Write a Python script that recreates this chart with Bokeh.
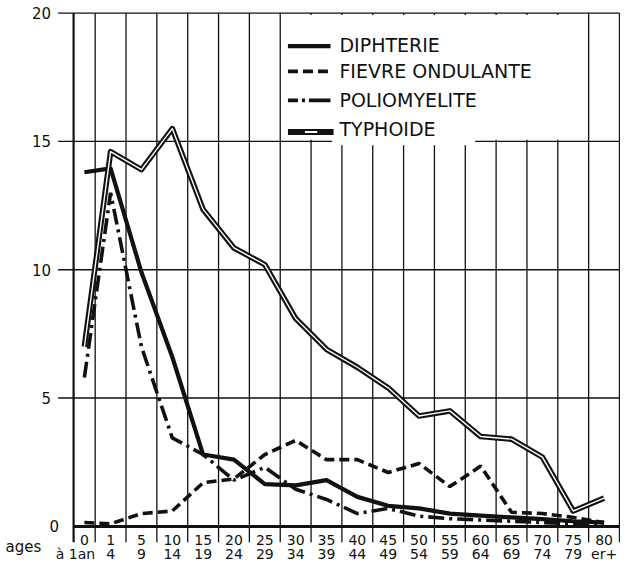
from bokeh.plotting import figure
from bokeh.models import Range1d
from bokeh.core.properties import value
from bokeh.embed import file_html
from bokeh.resources import INLINE
import numpy as np

# ---- data ----
age_from = ["0", "1", "5", "10", "15", "20", "25", "30", "35", "40", "45",
            "50", "55", "60", "65", "70", "75", "80"]
age_to = ["à 1an", "4", "9", "14", "19", "24", "29", "34", "39", "44", "49",
          "54", "59", "64", "69", "74", "79", "er+"]
col_width = [0.7] + [1.0] * 17

diphterie = [13.8, 13.95, 9.9, 6.6, 2.8, 2.6, 1.65, 1.6, 1.8, 1.15, 0.8,
             0.7, 0.5, 0.42, 0.35, 0.28, 0.2, 0.15]
fievre = [0.15, 0.1, 0.5, 0.6, 1.7, 1.85, 2.8, 3.35, 2.6, 2.6, 2.1,
          2.45, 1.55, 2.35, 0.55, 0.5, 0.35, 0.15]
polio = [5.8, 13.0, 7.0, 3.45, 2.8, 1.8, 2.3, 1.45, 1.05, 0.5, 0.7,
         0.4, 0.3, 0.25, 0.2, 0.15, 0.1, 0.1]
typhoide = [7.0, 14.6, 13.9, 15.5, 12.35, 10.85, 10.2, 8.1, 6.9, 6.2, 5.4,
            4.3, 4.5, 3.5, 3.4, 2.7, 0.6, 1.1]

y_ticks = [0, 5, 10, 15, 20]
y_tick_labels = ["0", "5", "10", "15", "20"]
legend_names = ["DIPHTERIE", "FIEVRE ONDULANTE", "POLIOMYELITE", "TYPHOIDE"]

# ---- derived ----
bounds = np.concatenate([[0.0], np.cumsum(col_width)])
centers = bounds[:-1] + np.array(col_width) / 2
xmax = bounds[-1]

W, H = 620, 565
p = figure(width=W, height=H, output_backend="svg", toolbar_location=None,
           x_axis_type=None, y_axis_type=None, min_border=0,
           x_range=Range1d(-2.370, 17.733),
           y_range=Range1d(-1.524, 20.491))
p.outline_line_color = None
p.xgrid.visible = False
p.ygrid.visible = False
p.background_fill_color = "white"

FONT = value("DejaVu Sans")
INK = "#111111"

# horizontal grid lines (with left tick extension)
hy = [t for t in y_ticks if t > 0]
p.segment(x0=[-0.5] * len(hy), x1=[xmax] * len(hy), y0=hy, y1=hy,
          line_color=INK, line_width=1.4)
# baseline
p.segment(x0=[0], x1=[xmax], y0=[0], y1=[0], line_color=INK, line_width=3)
# vertical lines (extend into first label row)
p.segment(x0=bounds[1:], x1=bounds[1:], y0=[-0.62] * (len(bounds) - 1),
          y1=[20] * (len(bounds) - 1), line_color=INK, line_width=1.3)
p.segment(x0=[0], x1=[0], y0=[-0.62], y1=[20], line_color=INK, line_width=2.2)

# legend box mask (grid lines absent inside legend area)
lb_left, lb_right = bounds[7] + 0.05, bounds[17] - 0.05
p.quad(left=[lb_left], right=[lb_right], bottom=[15.07], top=[19.93],
       fill_color="white", line_color=None)
p.quad(left=[8.38], right=[13.02], bottom=[14.85], top=[15.15],
       fill_color="white", line_color=None)

# ---- series ----
p.line(centers, fievre, line_color=INK, line_width=3.6, line_dash="10 5")
p.line(centers, polio, line_color=INK, line_width=3.6, line_dash="16 5 3 5")
p.line(centers, diphterie, line_color=INK, line_width=4.2, line_join="round")
p.line(centers, typhoide, line_color=INK, line_width=5.6, line_join="round")
p.line(centers, typhoide, line_color="white", line_width=1.4, line_join="round")

# ---- legend ----
sx0, sx1, tx = 6.95, 8.33, 8.62
ly = [18.75, 17.73, 16.63, 15.47]
p.line([sx0, sx1], [ly[0] - 0.04] * 2, line_color=INK, line_width=4.2)
p.line([sx0, sx1], [ly[1]] * 2, line_color=INK, line_width=3.6, line_dash="10 5")
p.line([sx0, sx1], [ly[2] - 0.03] * 2, line_color=INK, line_width=3.6,
       line_dash="10 4 3 4 30 4")
p.line([sx0, sx1 + 0.1], [ly[3] - 0.1] * 2, line_color=INK, line_width=6)
p.line([sx0 + 0.55, sx0 + 0.95], [ly[3] - 0.1] * 2, line_color="white",
       line_width=2)
p.text(x=[tx] * 4, y=ly, text=legend_names, text_font=FONT,
       text_font_size="19px", text_color=INK, text_baseline="middle",
       text_align="left")

# ---- axis labels ----
ylab_x = [-0.47 if t == 0 else -0.73 for t in y_ticks]
p.text(x=ylab_x, y=y_ticks, text=y_tick_labels, text_font=FONT,
       text_font_size="15px", text_color=INK, text_baseline="middle",
       text_align="right")

p.text(x=centers, y=[-0.53] * len(centers), text=age_from, text_font=FONT,
       text_font_size="14px", text_color=INK, text_baseline="middle",
       text_align="center")
p.text(x=centers[1:], y=[-1.07] * (len(centers) - 1), text=age_to[1:],
       text_font=FONT, text_font_size="14px", text_color=INK,
       text_baseline="middle", text_align="center")
p.text(x=[bounds[1]], y=[-1.07], text=age_to[:1], text_font=FONT,
       text_font_size="14px", text_color=INK, text_baseline="middle",
       text_align="right")
p.text(x=[-2.21], y=[-0.8], text=["ages"], text_font=FONT,
       text_font_size="15px", text_color=INK, text_baseline="middle",
       text_align="left")

open("out.html", "w").write(file_html(p, INLINE))
